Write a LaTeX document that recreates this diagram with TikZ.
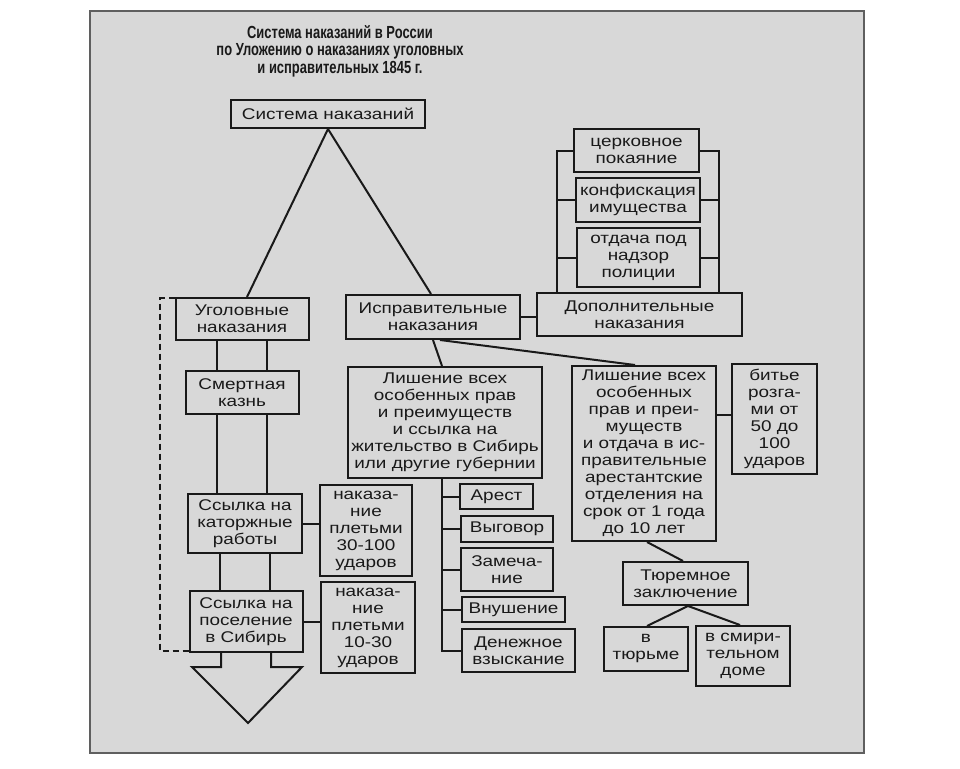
\documentclass[tikz,border=0pt]{standalone}
\usepackage{fontspec}
\setmainfont{Liberation Sans}[FakeStretch=1.22]
\newfontfamily\titlefont{Liberation Sans}[FakeStretch=0.74]
\usetikzlibrary{calc}
\definecolor{paper}{RGB}{216,216,216}
\definecolor{ink}{RGB}{25,25,25}
\definecolor{frame}{RGB}{95,95,95}
\tikzset{
  bx/.style={draw=ink, line width=2pt, align=center, inner sep=0pt, text=ink,
    font=\fontsize{15.5}{17}\selectfont},
  ln/.style={draw=ink, line width=2pt},
  ttl/.style={align=center, text=ink, font=\titlefont\bfseries\fontsize{17.5}{17.5}\selectfont},
}
\begin{document}
\begin{tikzpicture}[x=1pt,y=-1pt]
\useasboundingbox (0,0) rectangle (960,768);
\fill[white] (0,0) rectangle (960,768);
\draw[frame, fill=paper, line width=1.5pt] (90,11) rectangle (864,753);

\node[ttl] (title) at (340,51) {Система наказаний в России\\по Уложению о наказаниях уголовных\\и исправительных 1845 г.};

\node[bx, minimum width=194, minimum height=28] (sys) at (328,114) {Система наказаний};
\node[bx, minimum width=133, minimum height=42] (ugol) at (242,319) {Уголовные\\наказания};
\node[bx, minimum width=174, minimum height=44] (ispr) at (433,317) {Исправительные\\наказания};
\node[bx, minimum width=205, minimum height=43] (dop) at (639.5,314.5) {Дополнительные\\наказания};
\node[bx, minimum width=125, minimum height=43] (cerk) at (636.5,150.5) {церковное\\покаяние};
\node[bx, minimum width=124, minimum height=44] (konf) at (638,200) {конфискация\\имущества};
\node[bx, minimum width=123, minimum height=59] (otd) at (638.5,257.5) {отдача под\\надзор\\полиции};

\node[bx, minimum width=113, minimum height=43] (smert) at (242,392.5) {Смертная\\казнь};
\node[bx, minimum width=114, minimum height=59] (kator) at (245,523.5) {Ссылка на\\каторжные\\работы};
\node[bx, minimum width=113, minimum height=61] (posel) at (246,621.5) {Ссылка на\\поселение\\в Сибирь};
\node[bx, minimum width=92, minimum height=91] (pl1) at (366,530.5) {наказа-\\ние\\плетьми\\30-100\\ударов};
\node[bx, minimum width=94, minimum height=91] (pl2) at (368,627.5) {наказа-\\ние\\плетьми\\10-30\\ударов};

\node[bx, minimum width=194, minimum height=111] (lish1) at (445,422.5) {Лишение всех\\особенных прав\\и преимуществ\\и ссылка на\\жительство в Сибирь\\или другие губернии};
\node[bx, minimum width=73, minimum height=25] (arest) at (496.5,496.5) {Арест};
\node[bx, minimum width=92, minimum height=26] (vygov) at (507,529) {Выговор};
\node[bx, minimum width=92, minimum height=43] (zamech) at (507,569.5) {Замеча-\\ние};
\node[bx, minimum width=103, minimum height=25] (vnush) at (513.5,609.5) {Внушение};
\node[bx, minimum width=113, minimum height=43] (denezh) at (518.5,650.5) {Денежное\\взыскание};

\node[bx, minimum width=144, minimum height=175] (lish2) at (644,453.5) {Лишение всех\\особенных\\прав и преи-\\муществ\\и отдача в ис-\\правительные\\арестантские\\отделения на\\срок от 1 года\\до 10 лет};
\node[bx, minimum width=85, minimum height=110] (bit) at (774.5,419) {битье\\розга-\\ми от\\50 до\\100\\ударов};
\node[bx, minimum width=125, minimum height=43] (tyur) at (685.5,583.5) {Тюремное\\заключение};
\node[bx, minimum width=84, minimum height=44] (vtyur) at (646,649) {в\\тюрьме};
\node[bx, minimum width=94, minimum height=60] (vsmir) at (743,656) {в смири-\\тельном\\доме};

% top tree
\draw[ln] (sys.south) -- ([xshift=5]ugol.north);
\draw[ln] (sys.south) -- ([xshift=-2]ispr.north);
\draw[ln] (ispr.east) -- (ispr.east -| dop.west);

% additional punishments bracket
\coordinate (bl) at (557,293);
\coordinate (br) at (719,293);
\draw[ln] (cerk.west) -| (bl);
\draw[ln] (konf.west) -- (konf.west -| bl);
\draw[ln] (otd.west) -- (otd.west -| bl);
\draw[ln] (cerk.east) -| (br);
\draw[ln] (konf.east) -- (konf.east -| br);
\draw[ln] (otd.east) -- (otd.east -| br);

% criminal column
\foreach \u/\l in {ugol/smert, smert/kator, kator/posel}{
  \draw[ln] ([xshift=-25]\u.south) -- ([xshift=-25]\u.south |- \l.north);
  \draw[ln] ([xshift=25]\u.south) -- ([xshift=25]\u.south |- \l.north);
}
\draw[ln] (kator.east) -- (kator.east -| pl1.west);
\draw[ln] (posel.east) -- (posel.east -| pl2.west);

% big arrow
\coordinate (a1) at (192,667);
\coordinate (a2) at (248,723);
\coordinate (a3) at (302,667);
\draw[ln, line join=miter] ([xshift=-25]posel.south) |- (a1) -- (a2) -- (a3) -| ([xshift=25]posel.south);

% dashed bracket
\coordinate (dl) at (160,470);
\draw[ink, line width=1.6pt, dash pattern=on 6pt off 4pt] ([yshift=-1]ugol.north west) -| (dl) |- ([yshift=2]posel.south west);

% corrective branches
\draw[ln] (ispr.south) -- ([xshift=-3]lish1.north);
\draw[ln] ([xshift=7]ispr.south) -- ([xshift=-9]lish2.north);
\coordinate (tr) at ([xshift=-3]lish1.south);
\draw[ln] (tr) |- (denezh.west);
\foreach \b in {arest, vygov, zamech, vnush}{
  \draw[ln] (\b.west) -- (\b.west -| tr);
}
\draw[ln] ([yshift=4]bit.west) -- ([yshift=4]bit.west -| lish2.east);
\draw[ln] ([xshift=3]lish2.south) -- ([xshift=-2.5]tyur.north);
\draw[ln] ([xshift=2.5]tyur.south) -- ([xshift=1]vtyur.north);
\draw[ln] ([xshift=2.5]tyur.south) -- ([xshift=-3]vsmir.north);
\end{tikzpicture}
\end{document}
